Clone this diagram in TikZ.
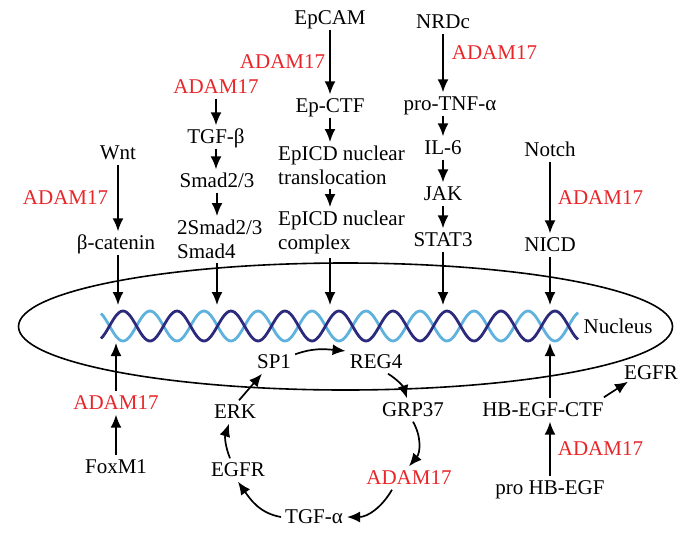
\documentclass[tikz,border=0pt]{standalone}
\usepackage{fontspec}
\setmainfont{Liberation Serif}
\usetikzlibrary{arrows.meta}
\definecolor{adamred}{RGB}{232,38,42}
\definecolor{helixdark}{RGB}{44,42,125}
\definecolor{helixlight}{RGB}{95,178,222}

\begin{document}
\begin{tikzpicture}[x=1pt,y=1pt,
    every node/.style={font=\fontsize{21}{24}\selectfont, inner sep=4pt, text height=14pt, text depth=1pt},
    adam/.style={text=adamred},
    block/.style={align=left, anchor=north west, text height=, text depth=}]

        \useasboundingbox (0,0) rectangle (700,-546);

        % nucleus with the DNA
        \draw[line width=1.6pt] (345.5,-326.5) ellipse (327pt and 63.5pt);
        \draw[helixlight, line width=2.8pt] plot[domain=101:578, samples=240, smooth] (\x, {-326+15*cos(6.6667*(\x-96))});
        \draw[helixdark, line width=2.8pt] plot[domain=101:578, samples=240, smooth] (\x, {-326-15*cos(6.6667*(\x-96))});

        \coordinate (h1) at (118,-305);
        \coordinate (h2) at (217,-305);
        \coordinate (h3) at (330,-305);
        \coordinate (h4) at (443,-305);
        \coordinate (h5) at (550,-305);
        \coordinate (h6) at (550,-343);
        \coordinate (h7) at (116,-343);

        \begin{scope}
          \node (wnt)     at (118,-153) {Wnt};
          \node (bcat)    at (116,-243) {β-catenin};
          \node[adam] (a2) at (216,-87) {ADAM17};
          \node (tgfb)    at (216,-137) {TGF-β};
          \node (smad)    at (217,-181) {Smad2/3};
          \node[block] (smad4) at (173,-216) {2Smad2/3\\Smad4};
          \node (epcam)   at (330,-18)  {EpCAM};
          \node (epctf)   at (330,-106) {Ep-CTF};
          \node[block] (trans) at (274,-142) {EpICD nuclear\\translocation};
          \node[block] (cplx)  at (274,-207) {EpICD nuclear\\complex};
          \node (nrdc)    at (443,-22)  {NRDc};
          \node (tnf)     at (450,-104) {pro-TNF-α};
          \node (il6)     at (443,-148) {IL-6};
          \node (jak)     at (443,-194) {JAK};
          \node (stat)    at (443,-240) {STAT3};
          \node (notch)   at (550,-150) {Notch};
          \node (nicd)    at (550,-245) {NICD};
          \node (nucleus) at (618,-327) {Nucleus};
          \node[adam] (a6) at (116,-403) {ADAM17};
          \node (foxm1)   at (116,-467) {FoxM1};
          \node (sp1)     at (274,-362) {SP1};
          \node (reg4)    at (376,-362) {REG4};
          \node (grp)     at (413,-410) {GRP37};
          \node[adam] (a8) at (409,-478) {ADAM17};
          \node (tgfa)    at (314,-517) {TGF-α};
          \node (egfr)    at (238,-470) {EGFR};
          \node (erk)     at (235,-412) {ERK};
          \node (hb)      at (543,-410) {HB-EGF-CTF};
          \node (egfrout) at (651,-373) {EGFR};
          \node (prohb)   at (550,-488) {pro HB-EGF};
        \end{scope}

        \begin{scope}[every edge/.style={draw, line width=1.7pt, -{Latex[length=13pt,width=11pt]}}]
          % pathways into the nucleus
          \path (wnt)   edge node[adam, left, xshift=-5pt, name=a3] {ADAM17} (wnt |- bcat.north);
          \path (bcat.south -| h1) edge (h1);
          \path (a2)    edge (tgfb);
          \path (tgfb)  edge (tgfb |- smad.north);
          \path (smad)  edge (smad |- smad4.north);
          \path (smad4.south -| h2) edge (h2);
          \path (epcam) edge node[adam, left, name=a1] {ADAM17} (epctf);
          \path (epctf) edge (epctf |- trans.north);
          \path (trans.south -| epctf) edge (epctf |- cplx.north);
          \path (cplx.south -| h3) edge (h3);
          \path (nrdc)  edge node[adam, right, pos=0.33, xshift=4pt, name=a4] {ADAM17} (nrdc |- tnf.north);
          \path (tnf.south -| nrdc) edge (il6);
          \path (il6)   edge (jak);
          \path (jak)   edge (stat);
          \path (stat)  edge (h4);
          \path (notch) edge node[adam, right, xshift=3pt, name=a5] {ADAM17} (nicd);
          \path (nicd)  edge (h5);
          % below the nucleus
          \path (foxm1) edge (a6);
          \path (a6)    edge (h7);
          \path (prohb) edge node[adam, right, xshift=3pt, name=a7] {ADAM17} (prohb |- hb.south);
          \path (hb.north -| h6) edge (h6);
          \path ([xshift=-4pt,yshift=1pt]hb.north east) edge ([xshift=8pt,yshift=3pt]egfrout.south west);
          % the loop
          \path (sp1.20) edge[out=20, in=175] (reg4.160);
          \path ([xshift=12pt]reg4.south) edge[bend left=20] ([xshift=-6pt]grp.north);
          \path (grp.south) edge[bend left=35] (a8.north);
          \path ([xshift=-17pt]a8.south) edge[out=240, in=0] (tgfa.east);
          \path (tgfa.west) edge[out=170, in=-55] (egfr.south);
          \path ([xshift=-8pt]egfr.north) edge[bend left=20] ([xshift=-6pt]erk.south);
          \path ([xshift=4pt]erk.north) edge ([xshift=-12pt]sp1.south);
        \end{scope}

      \end{tikzpicture}
\end{document}
